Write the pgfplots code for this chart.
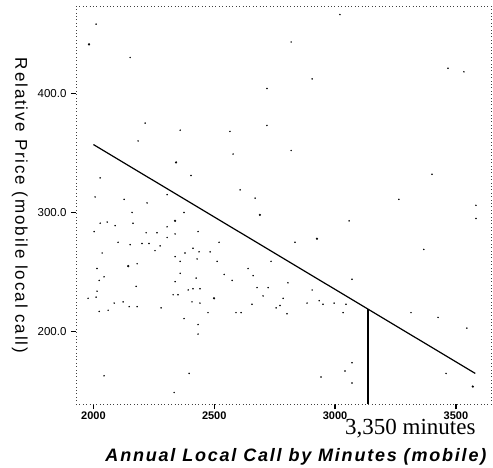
\documentclass[border=0pt]{standalone}
\usepackage{fontspec}
\setmainfont{Liberation Sans}
\newfontfamily\timesfont{Liberation Serif}
\usepackage{pgfplots}
\pgfplotsset{compat=1.18}
\begin{document}
\begin{tikzpicture}
\useasboundingbox (-76pt,-62.7pt) rectangle (417pt,404.3pt);
\begin{axis}[
  at={(0,0)}, anchor=south west,
  width=415.7pt, height=397.6pt, scale only axis,
  xmin=1928, xmax=3648, ymin=139.1, ymax=472.6,
  separate axis lines,
  axis line style={black!75, line width=0.8pt, dash pattern=on 0.8pt off 2.6pt},
  xtick={2000,2500,3000,3500},
  xticklabels={2000,2500,3000,3500},
  ytick={200,300,400},
  yticklabels={200.0,300.0,400.0},
  tick pos=left,
  tick align=outside,
  major tick length=5pt,
  tick style={black, solid, line width=1.3pt},
  /pgf/number format/assume math mode=true,
  xticklabel style={font=\fontsize{11}{11}\selectfont\bfseries, yshift=1pt},
  yticklabel style={font=\fontsize{11.5}{11.5}\selectfont, xshift=-1pt},
  xlabel={Annual Local Call by Minutes (mobile)},
  xlabel style={at={(axis description cs:0.529,-0.145)}, anchor=base,
    font=\fontsize{18}{18}\selectfont\bfseries\itshape\addfontfeature{LetterSpace=10}},
  ylabel={Relative Price (mobile local call)},
  ylabel style={at={(axis description cs:-0.135,0.5)}, anchor=center, rotate=180,
    font=\fontsize{17}{17}\selectfont\addfontfeature{LetterSpace=11}},
  clip=false,
]
\addplot[only marks, mark=*, mark size=0.55pt, draw=none, fill=black!50] coordinates {
(2011,458) (2152,430) (3020,466) (3467,421) (3533,418) (2905,412) (2718,404) (2214,375)
(2359,369) (2565,368) (2718,373) (2185,360) (2818,352) (2578,349) (2028,329) (2404,331)
(3401,332) (2607,319) (2007,313) (2127,311) (2305,315) (2669,312) (3264,311) (2222,308)
(3583,306) (2160,300) (2375,300) (3583,295) (3058,293) (2028,291) (2057,292) (2090,289)
(2164,291) (2003,284) (2305,288) (2338,282) (2433,284) (2218,283) (2263,283) (2305,279)
(2102,275) (2152,273) (2201,274) (2230,274) (2520,275) (2834,275) (3367,269) (2276,272)
(2255,268) (2412,270) (2437,267) (2429,261) (2483,267) (2379,266) (2036,266) (2338,263)
(2359,259) (2512,259) (2181,257) (2735,259) (2015,253) (2640,253) (2044,246) (2024,243)
(2359,249) (2541,248) (2574,243) (2661,247) (2425,245) (3070,244) (2805,241) (2338,242)
(2177,238) (2015,234) (2677,237) (2723,237) (2392,235) (2412,236) (2441,236) (2905,235)
(2330,231) (2350,231) (2702,230) (2011,229) (1978,228) (2785,228) (2934,226) (2408,225)
(2441,224) (2086,224) (2123,225) (2148,221) (2181,221) (2656,223) (2884,224) (2950,223)
(2996,224) (3045,223) (2772,222) (2756,220) (2024,217) (2061,218) (2280,220) (2474,216)
(2590,216) (2611,216) (2801,215) (3033,216) (3314,216) (2375,211) (3426,212) (2433,206)
(2433,198) (3545,203) (3070,174) (3041,167) (2942,162) (3459,165) (2044,163) (2396,165)
(3070,157) (2334,149) (2818,443)
};
\addplot[only marks, mark=*, mark size=0.9pt, draw=none, fill=black] coordinates {
(1982,441) (2342,342) (2689,298) (2338,293) (2925,278) (2144,255) (2499,228) (3570,154)
};
\addplot[black, line width=1.2pt] coordinates {(2000,357) (3580,165)};
\addplot[black, line width=2.2pt] coordinates {(3137,139.1) (3137,219)};
\node[anchor=base west, inner sep=0pt, font=\timesfont\fontsize{23}{23}\selectfont]
  at (axis description cs:0.647,-0.0772) {3,350 minutes};
\end{axis}
\end{tikzpicture}
\end{document}
